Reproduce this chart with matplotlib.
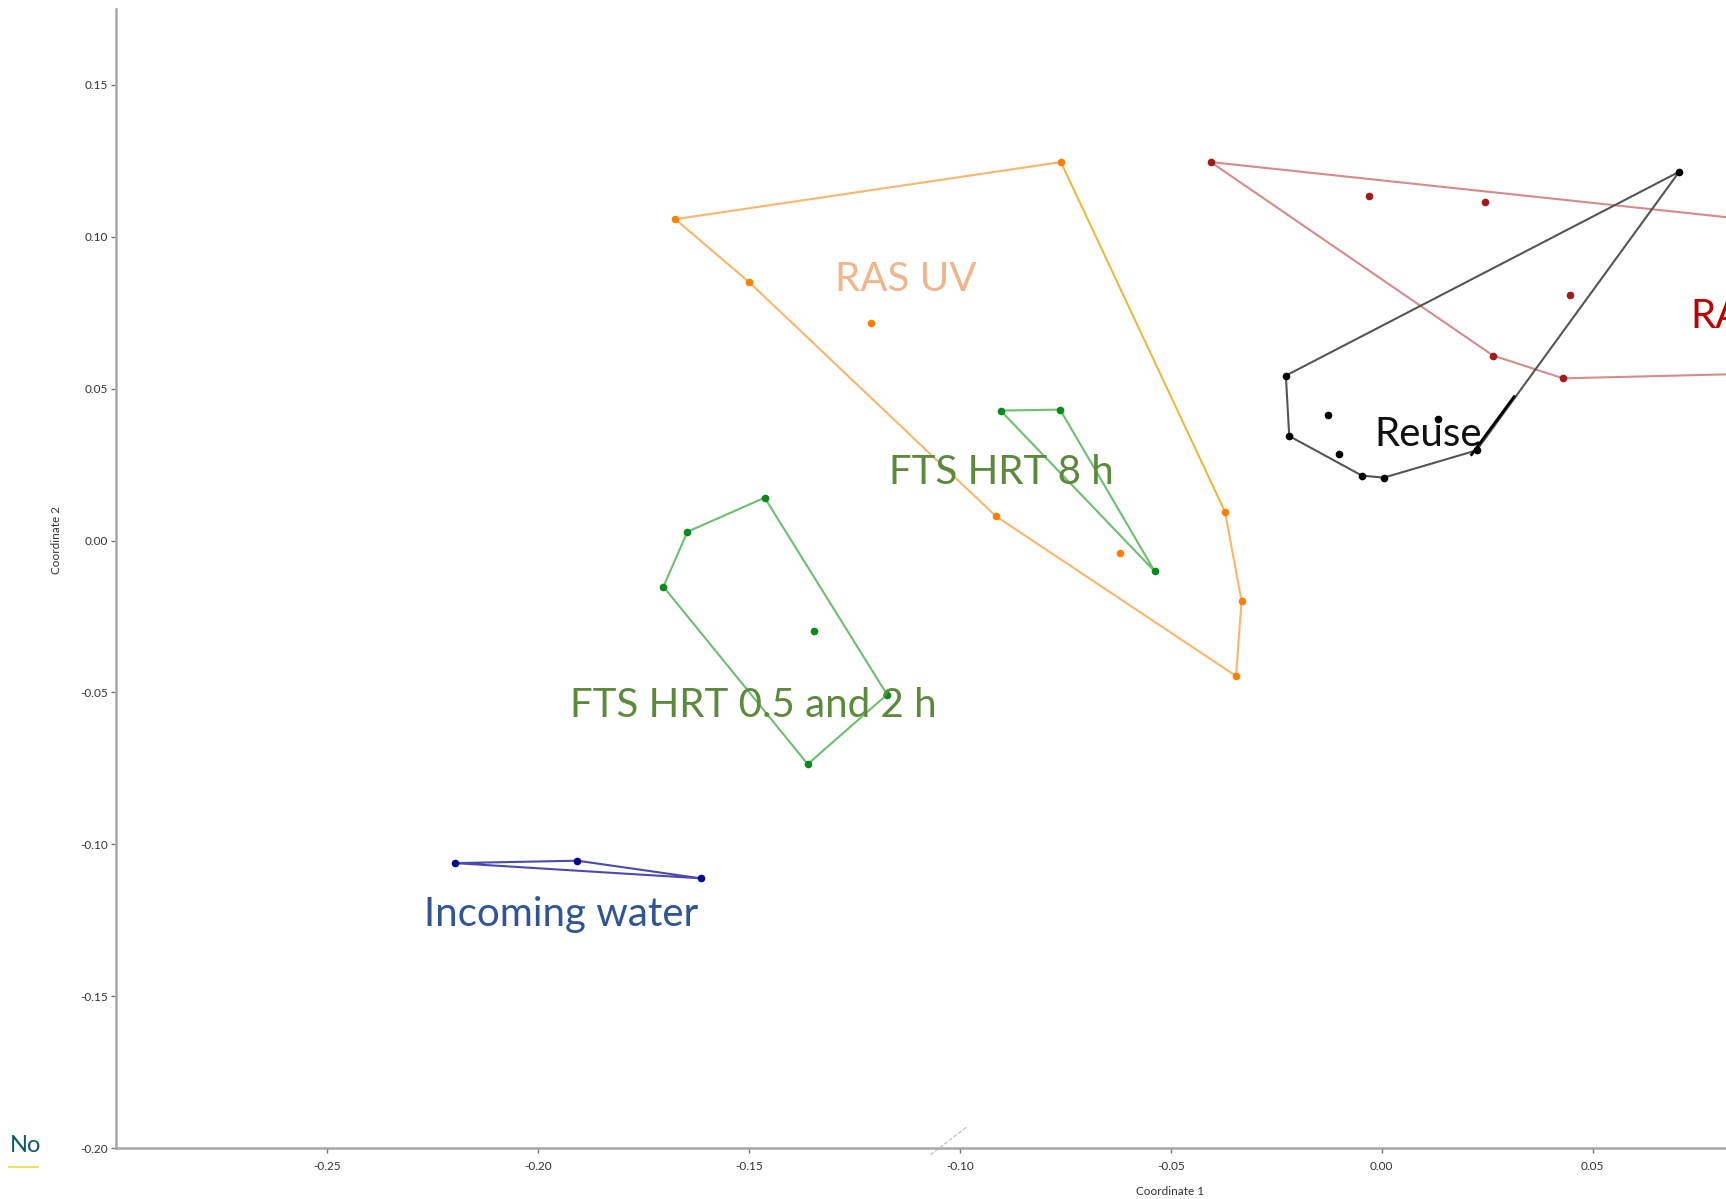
import matplotlib
matplotlib.use('Agg')
import matplotlib.pyplot as plt
from matplotlib.lines import Line2D

plt.rcParams['font.family'] = ['Lato', 'DejaVu Sans']

# group hulls (closed in drawing order) and interior samples
ras_uv_hull_x = [-0.1674, -0.0760, -0.0371, -0.0332, -0.0345, -0.0914, -0.1499]
ras_uv_hull_y = [0.1058, 0.1246, 0.0094, -0.0199, -0.0446, 0.0080, 0.0851]
ras_uv_in_x = [-0.1211, -0.0621]
ras_uv_in_y = [0.0717, -0.0040]

fts8_hull_x = [-0.0903, -0.0762, -0.0538]
fts8_hull_y = [0.0428, 0.0431, -0.0101]

fts05_hull_x = [-0.1462, -0.1645, -0.1702, -0.1360, -0.1172]
fts05_hull_y = [0.0141, 0.0029, -0.0152, -0.0736, -0.0507]
fts05_in_x = [-0.1345]
fts05_in_y = [-0.0297]

inc_hull_x = [-0.2196, -0.1906, -0.1614]
inc_hull_y = [-0.1062, -0.1054, -0.1112]

reuse_hull_x = [0.0705, -0.0227, -0.0219, -0.0047, 0.0005, 0.0225]
reuse_hull_y = [0.1214, 0.0543, 0.0344, 0.0214, 0.0207, 0.0297]
reuse_in_x = [-0.0128, -0.0102, 0.0133]
reuse_in_y = [0.0413, 0.0286, 0.0399]

ras_hull_x = [-0.0405, 0.1050, 0.1050, 0.0430, 0.0264]
ras_hull_y = [0.1246, 0.1030, 0.0555, 0.0534, 0.0609]
ras_in_x = [-0.0031, 0.0245, 0.0446]
ras_in_y = [0.1134, 0.1113, 0.0808]

labels = ['RAS UV', 'FTS HRT 8 h', 'FTS HRT 0.5 and 2 h', 'Incoming water', 'Reuse', 'RAS']
label_x = [-0.1128, -0.0901, -0.1488, -0.1945, 0.0110, 0.0732]
label_y = [0.0859, 0.0225, -0.0543, -0.1232, 0.0348, 0.0736]
label_colors = ['#f2b48a', '#5b8a3c', '#5b8a3c', '#2f5597', '#111111', '#c00000']
label_ha = ['center', 'center', 'center', 'center', 'center', 'left']

fig = plt.figure(figsize=(17.26, 11.99), dpi=100)
ax = fig.add_axes([0.067, 0.0425, 0.933, 0.950])


def hull(xs, ys, in_x, in_y, line_color, dot_color):
    ax.plot(xs + xs[:1], ys + ys[:1], color=line_color, lw=1.5, zorder=2)
    ax.plot(xs + in_x, ys + in_y, 'o', color=dot_color, ms=4.5, zorder=3, clip_on=True)


hull(ras_hull_x, ras_hull_y, ras_in_x, ras_in_y, '#d98a8a', '#a3191d')
hull(ras_uv_hull_x, ras_uv_hull_y, ras_uv_in_x, ras_uv_in_y, '#fdb56b', '#ff8000')
# thin yellow trace along the right edge of the RAS UV hull
ax.plot(ras_uv_hull_x[1:3], ras_uv_hull_y[1:3], color='#d6c600', lw=0.6, zorder=2)
hull(fts8_hull_x, fts8_hull_y, [], [], '#6cbf6c', '#0a8a1a')
hull(fts05_hull_x, fts05_hull_y, fts05_in_x, fts05_in_y, '#6cbf6c', '#0a8a1a')
hull(inc_hull_x, inc_hull_y, [], [], '#4a4ab5', '#0a0a8a')
hull(reuse_hull_x, reuse_hull_y, reuse_in_x, reuse_in_y, '#555555', '#000000')

# dark stroke over the lower end of the Reuse hull
ax.plot([0.0314, 0.0213], [0.0474, 0.0283], color='black', lw=2.0, zorder=4)

for t, x, y, c, ha in zip(labels, label_x, label_y, label_colors, label_ha):
    ax.text(x, y, t, color=c, fontsize=29, ha=ha, va='center', clip_on=True, zorder=5)

ax.set_xlim(-0.300, 0.0816)
ax.set_ylim(-0.200, 0.175)
ax.set_xticks([-0.25, -0.20, -0.15, -0.10, -0.05, 0.00, 0.05])
ax.set_yticks([-0.20, -0.15, -0.10, -0.05, 0.00, 0.05, 0.10, 0.15])
ax.xaxis.set_major_formatter(plt.FormatStrFormatter('%.2f'))
ax.yaxis.set_major_formatter(plt.FormatStrFormatter('%.2f'))
ax.tick_params(labelsize=8.5, labelcolor='#333333', color='#777777', length=3.5, width=1)
ax.tick_params(axis='x', pad=6)
ax.tick_params(axis='y', pad=2)
ax.set_xlabel('Coordinate 1', fontsize=8.5, color='#333333')
ax.set_ylabel('Coordinate 2', fontsize=8.5, color='#333333')
ax.xaxis.set_label_coords(0.655, -0.033)
ax.yaxis.set_label_coords(-0.0335, 0.534)
for s in ['top', 'right']:
    ax.spines[s].set_visible(False)
for s in ['left', 'bottom']:
    ax.spines[s].set_color('#a6a6a6')
    ax.spines[s].set_linewidth(1.8)

fig.text(0.006, 0.045, 'No', fontsize=17, color='#0e5a6a', ha='left', va='center')
fig.add_artist(Line2D([0.005, 0.022], [0.0267, 0.0267], color='#e8dc3c', lw=1.2))
fig.add_artist(Line2D([0.539, 0.560], [0.0367, 0.0600], color='#bbbbbb', lw=0.8, ls='--'))

fig.savefig('out.png', dpi=100)
